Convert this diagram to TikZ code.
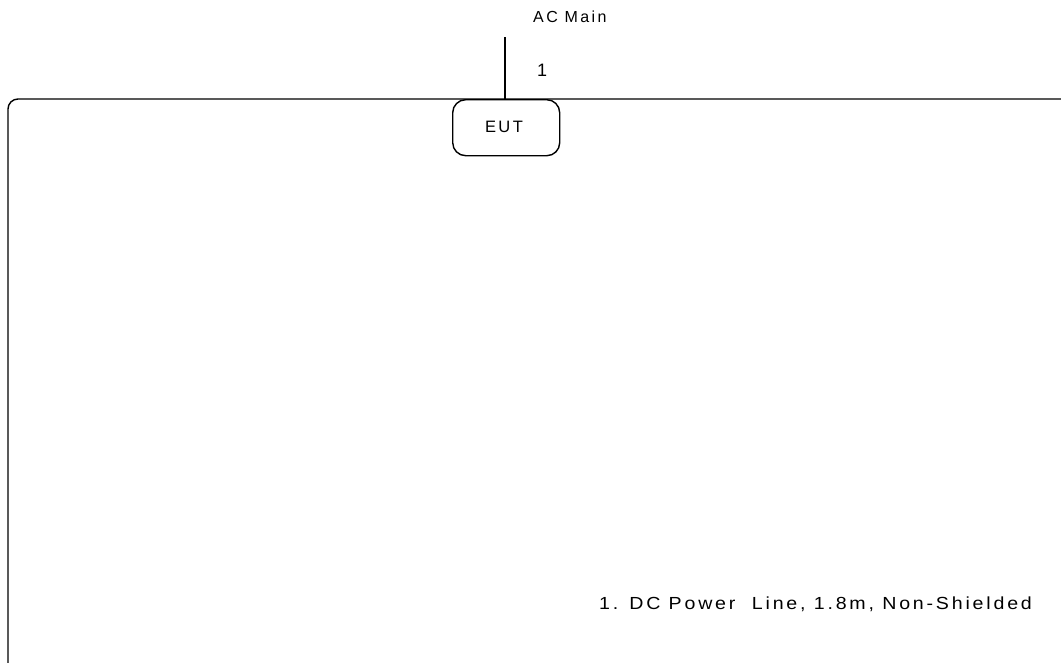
\documentclass[tikz,border=0pt]{standalone}
\usepackage{fontspec}
\setmainfont{Liberation Sans}
\newfontfamily\spaced[LetterSpace=15]{Liberation Sans}
\newfontfamily\wider[LetterSpace=16,FakeStretch=1.12]{Liberation Sans}
\begin{document}
\begin{tikzpicture}[x=1pt,y=-1pt,
  lbl/.style={inner sep=0pt,font=\spaced\fontsize{#1}{#1}\selectfont},
  lbl/.default=13,
  wire/.style={line width=1.8pt},
  frame/.style={line width=1.4pt,rounded corners=#1},
  frame/.default=10pt]
\useasboundingbox (0,0) rectangle (1061,662);
\begin{scope}
\clip (0,0) rectangle (1061,662);
\draw[frame] (8,99) rectangle (1080,680);
\end{scope}
\node[draw,frame=13pt,minimum width=107pt,minimum height=56pt,anchor=north west,inner sep=0pt] (eut) at (452,99) {};
\node[lbl=16.5,anchor=base] (eutl) at (504,132) {EUT};
\coordinate (ac) at (505,37);
\draw[wire] (ac) -- (ac |- eut.north);
\node[lbl=16,anchor=base west] (acm) at (533,22) {AC Main};
\node[lbl=18,anchor=base west] (one) at (537,76) {1};
\node[inner sep=0pt,font=\wider\fontsize{17.5}{17.5}\selectfont,anchor=base west] (legend) at (599,609) {1. DC Power\ \ Line, 1.8m, Non-Shielded};
\end{tikzpicture}
\end{document}
